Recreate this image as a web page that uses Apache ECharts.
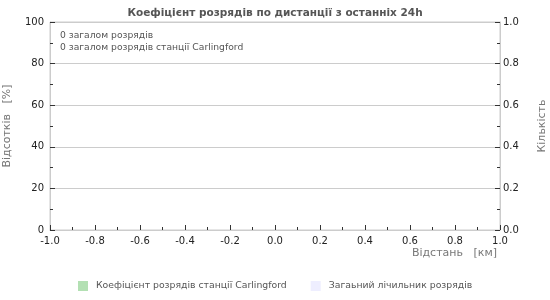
<!DOCTYPE html>
<html><head><meta charset="utf-8">
<script src="https://cdn.jsdelivr.net/npm/echarts@6/dist/echarts.min.js"></script>
<style>html,body{margin:0;padding:0;background:#fff}#c{width:550px;height:300px}</style>
</head><body><div id="c"></div>
<script>
var titleText = 'Коефіцієнт розрядів по дистанції з останніх 24h';
var infoLines = ['0 загалом розрядів', '0 загалом розрядів станції Carlingford'];
var seriesNames = ['Коефіцієнт розрядів станції Carlingford', 'Загаьний лічильник розрядів'];
var stationRatio = [];   // [distance, percent]
var totalCount = [];     // [distance, count]
var xMin = -1, xMax = 1, xStep = 0.2;
var yLeftMax = 100, yLeftStep = 20;
var yRightMax = 1, yRightStep = 0.2;

var font = 'DejaVu Sans';
var chart = echarts.init(document.getElementById('c'), null, {renderer: 'canvas'});
chart.setOption({
  animation: false,
  textStyle: {fontFamily: font},
  title: {text: titleText, left: 'center', top: 3,
    textStyle: {fontFamily: font, fontSize: 10.5, fontWeight: 'bold', color: '#555'}},
  legend: {bottom: 4, left: 73, itemWidth: 10, itemHeight: 10, itemGap: 24,
    icon: 'rect',
    textStyle: {fontFamily: font, fontSize: 9.3, color: '#555', padding: [0, 0, 0, 3]},
    data: seriesNames},
  grid: {left: 50, right: 50, top: 22, bottom: 70, show: true, borderColor: '#ccc', borderWidth: 1,
    containLabel: false, outerBoundsMode: 'none'},
  graphic: [
    {type: 'text', left: 60, top: 30, style: {text: infoLines.join('\n'), fontFamily: font, fontSize: 9.2, fill: '#555', lineHeight: 12}},
    {type: 'text', right: 53, top: 248, style: {text: 'Відстань   [км]', fontFamily: font, fontSize: 11, fill: '#777'}}
  ],
  xAxis: {type: 'value', min: xMin, max: xMax, interval: xStep,
    axisLine: {show: true, onZero: false, lineStyle: {color: '#ccc'}},
    axisTick: {show: true, inside: true, length: 5, lineStyle: {color: '#333'}},
    minorTick: {show: true, splitNumber: 2, length: 3, lineStyle: {color: '#333'}},
    splitLine: {show: false},
    axisLabel: {fontFamily: font, fontSize: 10, color: '#222', margin: 6,
      formatter: function(v){ return v.toFixed(1); }}},
  yAxis: [
    {type: 'value', min: 0, max: yLeftMax, interval: yLeftStep, position: 'left',
      name: 'Відсотків   [%]', nameLocation: 'middle', nameGap: 37, nameRotate: 90,
      nameTextStyle: {fontFamily: font, fontSize: 11, color: '#777'},
      axisLine: {show: true, onZero: false, lineStyle: {color: '#ccc'}},
      axisTick: {show: true, inside: true, length: 5, lineStyle: {color: '#333'}},
      minorTick: {show: true, splitNumber: 2, length: 3, lineStyle: {color: '#333'}},
      splitLine: {show: true, lineStyle: {color: '#ccc'}},
      axisLabel: {fontFamily: font, fontSize: 10, color: '#222', margin: 6}},
    {type: 'value', min: 0, max: yRightMax, interval: yRightStep, position: 'right',
      name: 'Кількість', nameLocation: 'middle', nameGap: 37, nameRotate: 90,
      nameTextStyle: {fontFamily: font, fontSize: 11, color: '#777'},
      axisLine: {show: true, onZero: false, lineStyle: {color: '#ccc'}},
      axisTick: {show: true, inside: true, length: 5, lineStyle: {color: '#333'}},
      minorTick: {show: true, splitNumber: 2, length: 3, lineStyle: {color: '#333'}},
      splitLine: {show: false},
      axisLabel: {fontFamily: font, fontSize: 10, color: '#222', margin: 3,
        formatter: function(v){ return v.toFixed(1); }}}
  ],
  series: [
    {name: seriesNames[0], type: 'bar', yAxisIndex: 0, data: stationRatio, itemStyle: {color: '#b3e0b3'}},
    {name: seriesNames[1], type: 'bar', yAxisIndex: 1, data: totalCount, itemStyle: {color: '#eeeeff'}}
  ]
});
</script></body></html>
